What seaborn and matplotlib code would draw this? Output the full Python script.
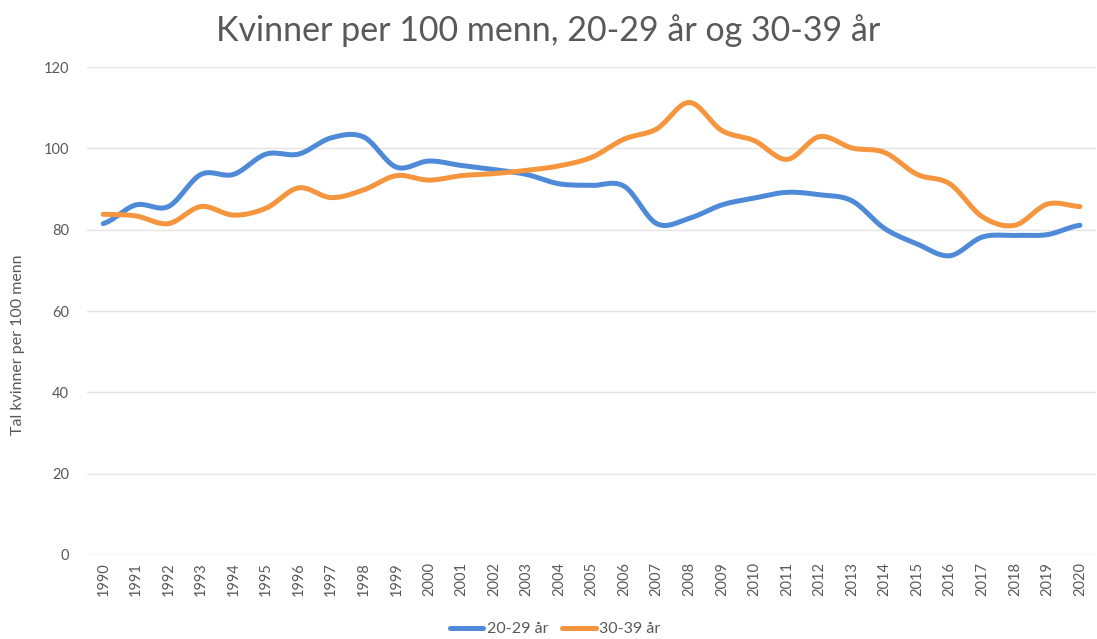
import numpy as np
import pandas as pd
import matplotlib.pyplot as plt
import seaborn as sns

sns.set_theme(style="white")
plt.rcParams["font.family"] = ["Lato", "DejaVu Sans"]

years = list(range(1990, 2021))
age_20_29 = [81.5, 86.1, 85.7, 93.6, 93.6, 98.6, 98.6, 102.6, 102.8, 95.4,
             96.9, 95.8, 94.8, 93.6, 91.3, 90.9, 90.7, 81.5, 82.8, 86.1,
             87.8, 89.2, 88.6, 87.1, 80.3, 76.5, 73.6, 78.2, 78.6, 78.8, 81.1]
age_30_39 = [83.8, 83.4, 81.5, 85.7, 83.6, 85.3, 90.3, 87.9, 89.8, 93.3,
             92.2, 93.3, 93.8, 94.6, 95.7, 97.8, 102.3, 104.8, 111.3, 104.4,
             101.9, 97.3, 102.9, 100.1, 99.0, 93.6, 91.3, 83.2, 81.1, 86.3, 85.7]
series_names = ["20-29 år", "30-39 år"]
colors = ["#4f8ad8", "#f5963f"]


def smooth(y, n=20):
    # excel-style smoothed line (catmull-rom between the points)
    y = np.asarray(y, dtype=float)
    p = np.concatenate([[y[0]], y, [y[-1]]])
    xs, ys = [], []
    for i in range(len(y) - 1):
        t = np.linspace(0, 1, n, endpoint=False)
        p0, p1, p2, p3 = p[i], p[i + 1], p[i + 2], p[i + 3]
        ys.extend(0.5 * (2 * p1 + (-p0 + p2) * t + (2 * p0 - 5 * p1 + 4 * p2 - p3) * t**2
                         + (-p0 + 3 * p1 - 3 * p2 + p3) * t**3))
        xs.extend(i + t)
    xs.append(len(y) - 1)
    ys.append(y[-1])
    return np.array(xs), np.array(ys)


frames = []
for name, vals in zip(series_names, [age_20_29, age_30_39]):
    sx, sy = smooth(vals)
    frames.append(pd.DataFrame({"x": sx, "value": sy, "serie": name}))
df = pd.concat(frames)

fig = plt.figure(figsize=(10.97, 6.39), dpi=100)
ax = fig.add_axes([0.0793, 0.1315, 0.92, 0.7635])
sns.lineplot(data=df, x="x", y="value", hue="serie", palette=colors,
             linewidth=3.6, sort=False, ax=ax, legend=False)

ax.set_xlim(-0.5, len(years) - 0.5)
ax.set_ylim(0, 120)
ax.set_yticks(range(0, 121, 20))
ax.set_xticks(range(len(years)))
ax.set_xticklabels(years, rotation=90)
ax.tick_params(axis="both", colors="#595959", labelsize=10.5, length=0)
ax.tick_params(axis="y", pad=13)
ax.tick_params(axis="x", pad=5)
ax.grid(axis="y", color="#e4e4e4", linewidth=1)
for s in ax.spines.values():
    s.set_visible(False)
ax.set_xlabel("")
ax.set_ylabel("")

fig.text(0.5, 1 - 31 / 639, "Kvinner per 100 menn, 20-29 år og 30-39 år",
         ha="center", va="center", fontsize=24.5, color="#595959")
fig.text(18 / 1097, 1 - 345 / 639, "Tal kvinner per 100 menn", rotation=90,
         ha="center", va="center", fontsize=11.5, color="#595959")

handles = [plt.Line2D([], [], color=c, linewidth=3.6) for c in colors]
fig.legend(handles, series_names, loc="center", bbox_to_anchor=(0.506, 1 - 629 / 639),
           ncol=2, frameon=False, fontsize=11.5, labelcolor="#595959",
           handlelength=2.1, handletextpad=0.2, columnspacing=0.9)

plt.savefig("out.png", dpi=100)
plt.close()
